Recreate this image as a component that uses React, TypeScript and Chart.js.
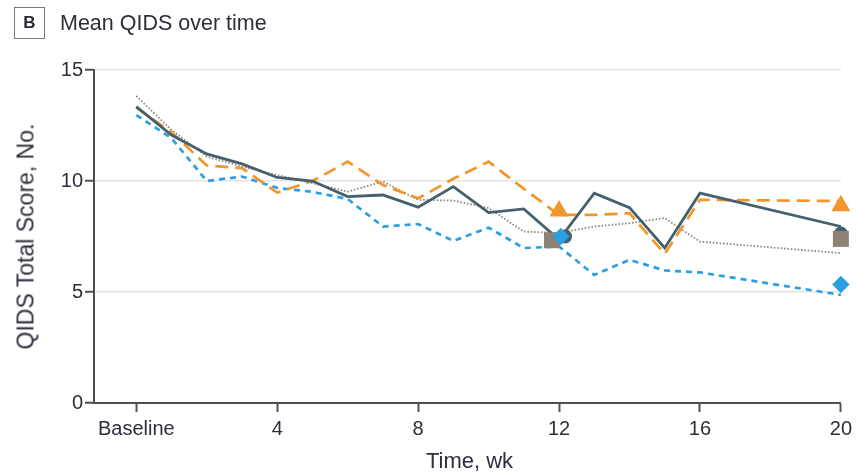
import { useEffect, useRef } from 'react';
import { Chart, registerables } from 'chart.js';

Chart.register(...registerables);

// ---- data ----
const weeks = [0, 1, 2, 3, 4, 5, 6, 7, 8, 9, 10, 11, 12, 13, 14, 15, 16, 20];
const solidSeries = [13.35, 12.07, 11.22, 10.77, 10.16, 10.0, 9.3, 9.37, 8.82, 9.75, 8.58, 8.74, 7.35, 9.45, 8.8, 6.98, 9.45, 7.95];
const longDashSeries = [13.3, 12.2, 10.7, 10.58, 9.48, 10.0, 10.87, 9.82, 9.22, 10.1, 10.87, 9.65, 8.47, 8.47, 8.55, 6.72, 9.15, 9.1];
const shortDashSeries = [12.97, 11.93, 10.0, 10.2, 9.69, 9.51, 9.19, 7.95, 8.06, 7.3, 7.9, 6.98, 7.05, 5.77, 6.45, 5.97, 5.88, 4.87];
const dottedSeries = [13.83, 12.3, 11.1, 10.65, 10.27, 9.9, 9.52, 9.97, 9.15, 9.12, 8.78, 7.72, 7.66, 7.95, 8.1, 8.33, 7.27, 6.75];

const triangleX = [12, 20];
const triangleY = [8.65, 8.88];
const circleX = [12.17, 20];
const circleY = [7.5, 7.63];
const squareX = [11.8, 20];
const squareY = [7.33, 7.39];
const diamondX = [12.05, 20];
const diamondY = [7.5, 5.34];

const xTickValues = [0, 4, 8, 12, 16, 20];
const xTickLabels = ['Baseline', '4', '8', '12', '16', '20'];
const yTickValues = [0, 5, 10, 15];

const title = 'Mean QIDS over time';
const panelLetter = 'B';
const xTitle = 'Time, wk';
const yTitle = 'QIDS Total Score, No.';

const DARK = '#44606c';
const ORANGE = '#f2962b';
const BLUE = '#2aa0e0';
const DOTTED = '#8f8a85';
const TAUPE = '#8c8276';
const TEXT = '#2f2d3b';
const AXIS = '#505050';
const FONT = '"Liberation Sans", Arial, sans-serif';

const pts = (xs: number[], ys: number[]) => xs.map((x, i) => ({ x, y: ys[i] }));

export default function App() {
  const ref = useRef<HTMLCanvasElement>(null);

  useEffect(() => {
    const canvas = ref.current;
    if (!canvas) return;
    const marker = (label: string, xs: number[], ys: number[], style: any, radius: number, color: string) => ({
      label,
      data: pts(xs, ys),
      showLine: false,
      clip: false,
      pointStyle: style,
      pointRadius: radius,
      pointHoverRadius: radius,
      pointBackgroundColor: color,
      pointBorderWidth: 0,
      borderWidth: 0,
      backgroundColor: color,
      borderColor: color,
    });
    const line = (label: string, ys: number[], color: string, width: number, dash: number[]) => ({
      label,
      data: pts(weeks, ys),
      borderColor: color,
      borderWidth: width,
      borderDash: dash,
      pointRadius: 0,
      pointHoverRadius: 0,
      fill: false,
      tension: 0,
      clip: false,
      borderCapStyle: 'butt',
      borderJoinStyle: 'miter',
    });
    const chart = new Chart(canvas, {
      type: 'line',
      data: {
        datasets: [
          marker('Triangle', triangleX, triangleY, 'triangle', 11, ORANGE),
          marker('Diamond', diamondX, diamondY, 'rectRot', 8.7, BLUE),
          marker('Square', squareX, squareY, 'rect', 11.3, TAUPE),
          marker('Circle', circleX, circleY, 'circle', 7, DARK),
          line('Solid', solidSeries, DARK, 2.8, []),
          line('Long dash', longDashSeries, ORANGE, 2.7, [13, 7]),
          line('Short dash', shortDashSeries, BLUE, 2.7, [6, 5]),
          line('Dotted', dottedSeries, DOTTED, 1.8, [1.6, 1.8]),
        ] as any,
      },
      options: {
        animation: false,
        responsive: false,
        maintainAspectRatio: false,
        events: [],
        layout: { padding: { left: 0, right: 12, top: 70, bottom: 0 }, autoPadding: false } as any,
        plugins: {
          legend: { display: false },
          tooltip: { enabled: false },
          title: { display: false },
        },
        scales: {
          x: {
            type: 'linear',
            min: -1.2,
            max: 20,
            afterBuildTicks: (s: any) => {
              s.ticks = xTickValues.map((v) => ({ value: v }));
            },
            afterFit: (s: any) => {
              s.height = 72;
            },
            grid: { drawOnChartArea: false, drawTicks: true, tickLength: 9, tickColor: AXIS, tickWidth: 2 },
            border: { color: AXIS, width: 2 },
            ticks: {
              autoSkip: false,
              maxRotation: 0,
              padding: 5,
              color: TEXT,
              font: { family: FONT, size: 20 },
              callback: (v: any) => {
                const i = xTickValues.indexOf(Number(v));
                return i >= 0 ? xTickLabels[i] : '';
              },
            },
          },
          y: {
            type: 'linear',
            min: 0,
            max: 15,
            afterBuildTicks: (s: any) => {
              s.ticks = yTickValues.map((v) => ({ value: v }));
            },
            afterFit: (s: any) => {
              s.width = 94;
            },
            grid: { color: '#e3e3e3', lineWidth: 1.5, drawTicks: true, tickLength: 9, tickColor: AXIS, tickWidth: 2 },
            border: { color: AXIS, width: 2 },
            ticks: {
              padding: 2,
              color: TEXT,
              font: { family: FONT, size: 20 },
            },
          },
        },
      } as any,
    });
    return () => chart.destroy();
  }, []);

  return (
    <div style={{ position: 'fixed', left: 0, top: 0, width: 857, height: 475, background: '#fff', overflow: 'hidden', fontFamily: FONT, color: TEXT }}>
      <canvas ref={ref} width={857} height={475} style={{ position: 'absolute', left: 0, top: 0, width: 857, height: 475 }} />
      <div
        style={{
          position: 'absolute', left: 14, top: 7, width: 29, height: 30, border: '1.5px solid #7a7a7a',
          fontWeight: 'bold', fontSize: 17, lineHeight: '30px', textAlign: 'center', color: '#2b2a3a',
        }}
      >
        {panelLetter}
      </div>
      <div style={{ position: 'absolute', left: 60, top: 13, fontSize: 21.5, lineHeight: '21.5px', whiteSpace: 'nowrap' }}>
        {title}
      </div>
      <div
        style={{
          position: 'absolute', left: 26 - 150, top: 236.5 - 11.5, width: 300, height: 23, lineHeight: '23px',
          fontSize: 23, textAlign: 'center', transform: 'rotate(-90deg)', transformOrigin: '50% 50%', whiteSpace: 'nowrap',
        }}
      >
        {yTitle}
      </div>
      <div
        style={{
          position: 'absolute', left: 469.5 - 150, top: 450, width: 300, lineHeight: '22px', fontSize: 22,
          textAlign: 'center', whiteSpace: 'nowrap',
        }}
      >
        {xTitle}
      </div>
    </div>
  );
}
